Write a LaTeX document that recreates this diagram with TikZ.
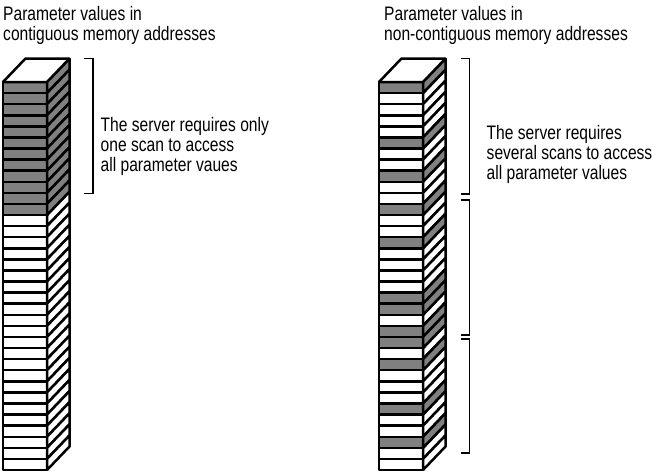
\documentclass[tikz,border=0pt]{standalone}
\usepackage{fontspec}
\setmainfont{Liberation Sans}[FakeStretch=0.8]
\usetikzlibrary{positioning}
\definecolor{memgray}{HTML}{808080}

% one memory cell: front face plus slanted side face
\newcommand{\memcell}[3]{%
  \pgfmathsetmacro{\cy}{82+#2*11.086}
  \filldraw[cell, fill=#3] (#1,\cy) rectangle ++(44,11.086);
  \filldraw[cell, fill=#3] (#1+44,\cy) -- ++(22.5,-23.5) -- ++(0,11.086) -- ++(-22.5,23.5) -- cycle;
}

\begin{document}
\begin{tikzpicture}[
  x=1pt, y=-1pt,
  every node/.style={font=\fontsize{19.5}{20}\selectfont, inner sep=0pt, align=left, anchor=north west},
  cell/.style={draw=black, line width=2.5pt, line join=bevel},
  brace/.style={draw=black, line width=1.6pt},
]
\useasboundingbox (0,0) rectangle (652,472);

% contiguous block
\foreach \i in {0,...,34} {\memcell{3}{\i}{white}}
\foreach \i in {0,...,11} {\memcell{3}{\i}{memgray}}
\filldraw[cell, fill=white] (3,82) -- ++(44,0) -- ++(22.5,-23.5) -- ++(-44,0) -- cycle;

% scattered block
\foreach \i in {0,...,34} {\memcell{379}{\i}{white}}
\foreach \i in {0,5,8,11,14,19,20,22,23,25,29,32} {\memcell{379}{\i}{memgray}}
\filldraw[cell, fill=white] (379,82) -- ++(44,0) -- ++(22.5,-23.5) -- ++(-44,0) -- cycle;

% titles
\node (contig) at (3,6.5) {Parameter values in\\contiguous memory addresses};
\node (noncontig) at (384,6.5) {Parameter values in\\non-contiguous memory addresses};

% scan brackets
\draw[brace] (84,58.3) -- (92.7,58.3) -- (92.7,193.3) -- (84,193.3);
\draw[brace] (461,58.3) -- (469.5,58.3) -- (469.5,194) -- (461,194);
\draw[brace] (461,200) -- (469.5,200) -- (469.5,335) -- (461,335);
\draw[brace] (461,339) -- (469.5,339) -- (469.5,453) -- (461,453);

\node (onescan) at (100.5,117.3) {The server requires only\\one scan to access\\all parameter vaues};
\node (manyscans) at (486.5,125.5) {The server requires\\several scans to access\\all parameter values};
\end{tikzpicture}
\end{document}
